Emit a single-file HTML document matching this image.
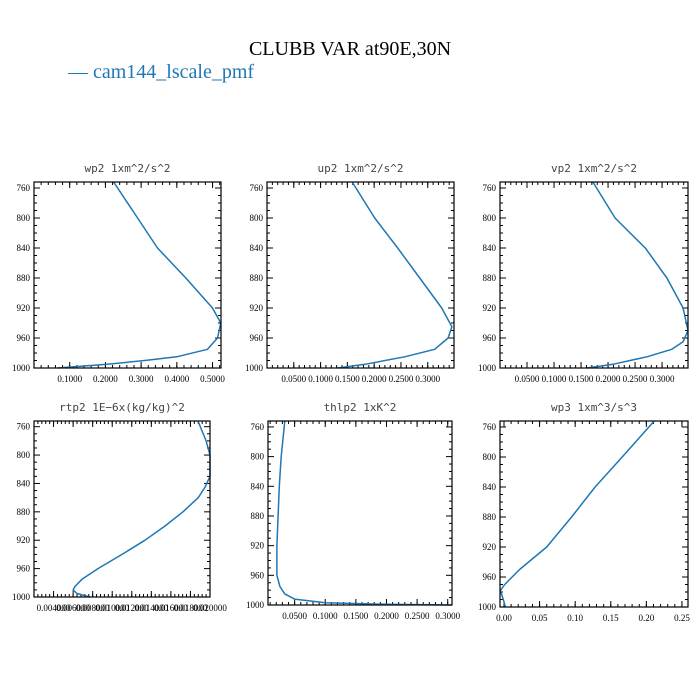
<!DOCTYPE html>
<html><head><meta charset="utf-8"><style>
body{margin:0;background:#fff;}
svg{display:block;}
</style></head><body>
<svg id="fig" width="700" height="700" xmlns="http://www.w3.org/2000/svg">
<rect width="700" height="700" fill="#fff"/>
<text x="350" y="55" text-anchor="middle" font-family="Liberation Serif, serif" font-size="20">CLUBB VAR at90E,30N</text>
<text x="68" y="78" fill="#1f77b4" font-family="Liberation Serif, serif" font-size="20">— cam144_lscale_pmf</text>
</svg>
<script>
const levels = [752,800,840,880,920,940,960,975,985,990,995,1000];
const wp2Values = [0.223,0.29,0.346,0.425,0.50,0.523,0.514,0.486,0.40,0.31,0.205,0.066];
const up2Levels = [752,800,840,880,920,945,960,975,985,995,1000];
const up2Values = [0.159,0.201,0.244,0.285,0.326,0.345,0.338,0.313,0.257,0.183,0.132];
const vp2Levels = [752,800,840,880,920,950,965,975,985,995,1000];
const vp2Values = [0.172,0.213,0.269,0.309,0.339,0.348,0.339,0.318,0.272,0.209,0.161];
const rtp2Levels = [752,780,800,830,845,860,880,900,920,940,960,975,985,990,995,1000];
const rtp2Values = [0.01877,0.0196,0.0200,0.0200,0.0195,0.0188,0.01724,0.0154,0.01335,0.0110,0.00855,0.0069,0.0062,0.0060,0.0064,0.0077];
const thlp2Levels = [752,800,840,880,920,960,975,985,992,997,999,1000];
const thlp2Values = [0.034,0.028,0.025,0.023,0.021,0.021,0.026,0.034,0.05,0.10,0.2,0.307];
const wp3Levels = [752,800,840,880,920,950,970,978,990,1000];
const wp3Values = [0.211,0.166,0.128,0.095,0.060,0.022,0.001,-0.005,-0.001,0.002];
const yTicks = [760,800,840,880,920,960,1000];
const wp2Ticks = [0.1,0.2,0.3,0.4,0.5];
const up2Ticks = [0.05,0.1,0.15,0.2,0.25,0.3];
const rtp2Ticks = [0.004,0.006,0.008,0.010,0.012,0.014,0.016,0.018,0.020];
const wp3Ticks = [0,0.05,0.1,0.15,0.2,0.25];

const NS='http://www.w3.org/2000/svg';
const svg=document.getElementById('fig');
function mk(tag,attrs,parent){const e=document.createElementNS(NS,tag);for(const k in attrs)e.setAttribute(k,attrs[k]);(parent||svg).appendChild(e);return e;}

const panels=[
 {name:'wp2',title:'wp2   1xm^2/s^2',x0:34,x1:221,y0:182,y1:368,xmin:0,xmax:0.5237,lv:levels,vals:wp2Values,ticks:wp2Ticks,fmt:v=>v.toFixed(4),minor:0.02},
 {name:'up2',title:'up2   1xm^2/s^2',x0:267,x1:454,y0:182,y1:368,xmin:0,xmax:0.349,lv:up2Levels,vals:up2Values,ticks:up2Ticks,fmt:v=>v.toFixed(4),minor:0.01},
 {name:'vp2',title:'vp2   1xm^2/s^2',x0:500,x1:688,y0:182,y1:368,xmin:0,xmax:0.348,lv:vp2Levels,vals:vp2Values,ticks:up2Ticks,fmt:v=>v.toFixed(4),minor:0.01},
 {name:'rtp2',title:'rtp2   1E−6x(kg/kg)^2',x0:34,x1:210,y0:421,y1:597,xmin:0.002,xmax:0.0200,lv:rtp2Levels,vals:rtp2Values,ticks:rtp2Ticks,fmt:v=>v.toFixed(6),minor:0.0004},
 {name:'thlp2',title:'thlp2   1xK^2',x0:268,x1:452,y0:421,y1:605,xmin:0.0065,xmax:0.307,lv:thlp2Levels,vals:thlp2Values,ticks:up2Ticks,fmt:v=>v.toFixed(4),minor:0.01},
 {name:'wp3',title:'wp3   1xm^3/s^3',x0:500,x1:688,y0:421,y1:607,xmin:-0.0056,xmax:0.2585,lv:wp3Levels,vals:wp3Values,ticks:wp3Ticks,fmt:v=>v.toFixed(2),minor:0.01}
];
const PMIN=752,PMAX=1000;
panels.forEach(p=>{
 const g=mk('g',{});
 
 
 const sx=v=>p.x0+(v-p.xmin)/(p.xmax-p.xmin)*(p.x1-p.x0);
 const sy=v=>p.y0+(v-PMIN)/(PMAX-PMIN)*(p.y1-p.y0);
 const t=mk('text',{x:(p.x0+p.x1)/2,y:p.y0-10,'text-anchor':'middle','font-family':'DejaVu Sans Mono, monospace','font-size':'11',fill:'#444'},g);
 t.textContent=p.title;
 
 
 // y minor/major ticks
 for(let v=760;v<=1000;v+=10){
  const y=sy(v);const L=(v%40===0)?6:3;
  mk('line',{x1:p.x0,x2:p.x0+L,y1:y,y2:y,stroke:'#000','stroke-width':1},g);
  mk('line',{x1:p.x1,x2:p.x1-L,y1:y,y2:y,stroke:'#000','stroke-width':1},g);
 }
 yTicks.forEach(v=>{
  const tt=mk('text',{x:p.x0-4,y:sy(v)+3,'text-anchor':'end','font-family':'Liberation Serif, serif','font-size':'9'},g);
  tt.textContent=v;
  
  
 });
 // x minor ticks
 const start=Math.ceil(p.xmin/p.minor)*p.minor;
 for(let v=start;v<=p.xmax+1e-9;v+=p.minor){
  const x=sx(v);
  mk('line',{x1:x,x2:x,y1:p.y1,y2:p.y1-3,stroke:'#000','stroke-width':1},g);
  mk('line',{x1:x,x2:x,y1:p.y0,y2:p.y0+3,stroke:'#000','stroke-width':1},g);
 }
 p.ticks.forEach(v=>{
  const x=sx(v);
  mk('line',{x1:x,x2:x,y1:p.y1,y2:p.y1-6,stroke:'#000','stroke-width':1},g);
  mk('line',{x1:x,x2:x,y1:p.y0,y2:p.y0+6,stroke:'#000','stroke-width':1},g);
  const tt=mk('text',{x:x,y:p.y1+14,'text-anchor':'middle','font-family':'Liberation Serif, serif','font-size':'9'},g);
  tt.textContent=p.fmt(v);
  
  
 });
 const pts=p.lv.map((l,i)=>sx(p.vals[i]).toFixed(1)+','+sy(l).toFixed(1)).join(' ');
 const ln=mk('polyline',{points:pts,fill:'none',stroke:'#1f77b4','stroke-width':1.5,'stroke-linejoin':'round'},g);
 
 
 const fr=mk('rect',{x:p.x0,y:p.y0,width:p.x1-p.x0,height:p.y1-p.y0,fill:'none',stroke:'#000','stroke-width':1.2},g);
 
 
});
</script>
</body></html>
